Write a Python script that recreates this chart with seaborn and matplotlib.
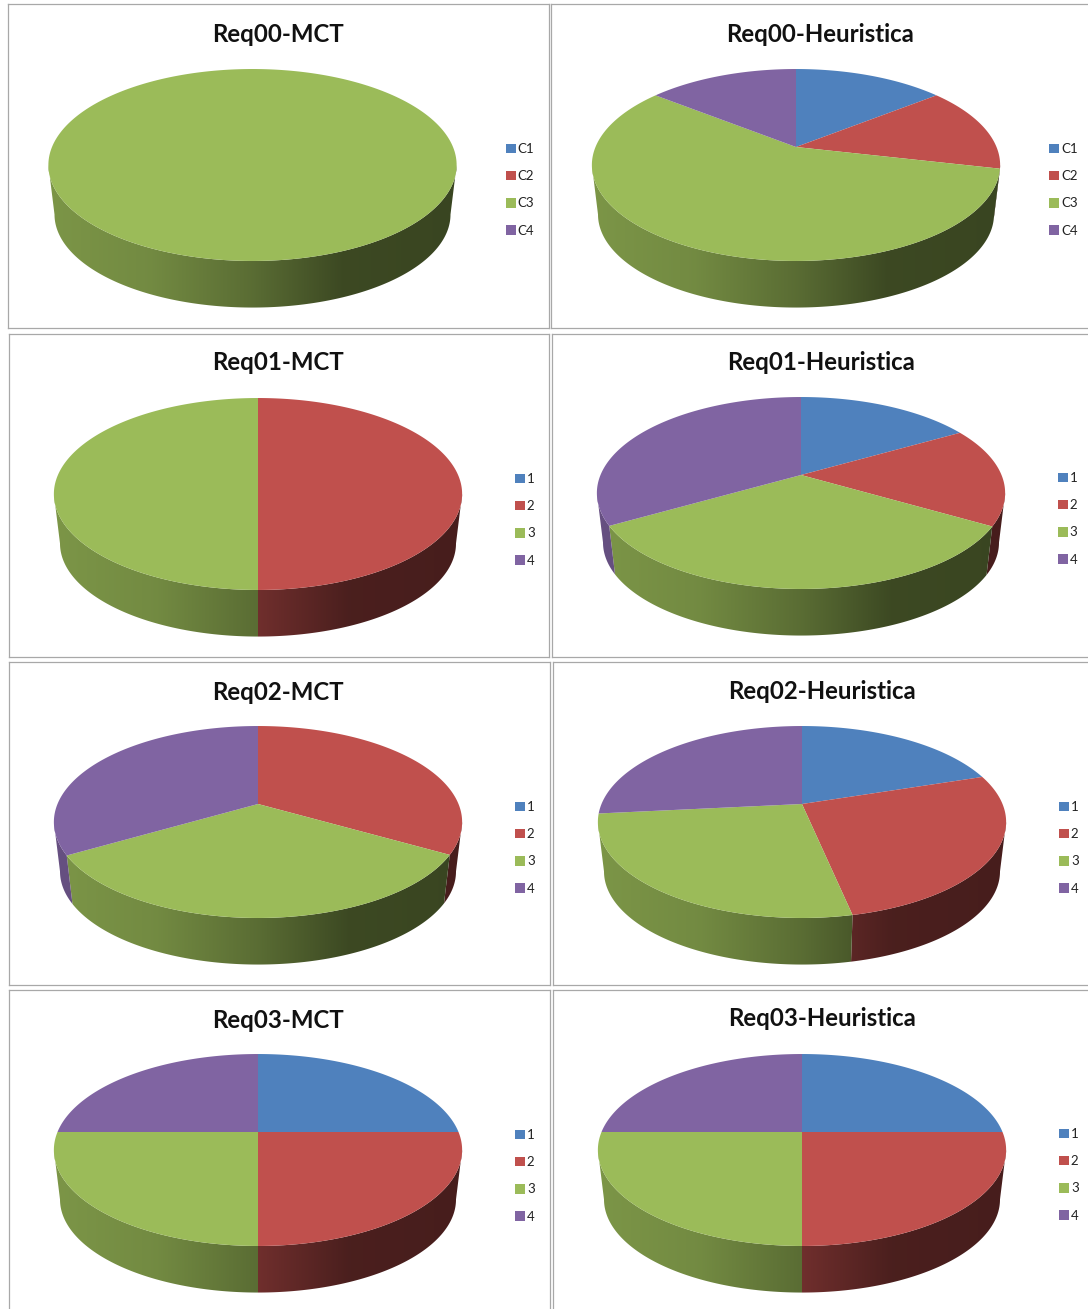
import matplotlib

matplotlib.use("Agg")

import matplotlib.pyplot as plt
import numpy as np
import seaborn as sns
from matplotlib.patches import Patch, Polygon

WIDTH, HEIGHT = 1088, 1309

# share of each class per chart
REQ00_MCT = [0, 0, 100, 0]
REQ00_HEUR = [14.3, 14.3, 57.1, 14.3]
REQ01_MCT = [0, 50, 50, 0]
REQ01_HEUR = [16.7, 16.7, 33.3, 33.3]
REQ02_MCT = [0, 33.3, 33.3, 33.4]
REQ02_HEUR = [20, 26.7, 26.7, 26.6]
REQ03_MCT = [25, 25, 25, 25]
REQ03_HEUR = [25, 25, 25, 25]

LABELS_C = ["C1", "C2", "C3", "C4"]
LABELS_N = ["1", "2", "3", "4"]
COLORS = ["#4F81BD", "#C0504D", "#9BBB59", "#8064A2"]

# rim shading, left to right across the pie
SHADE_POS = [0.0, 0.25, 0.5, 0.72, 1.0]
SHADE_MUL = [0.80, 0.74, 0.58, 0.39, 0.37]

# pie geometry in pixels
RX = 200.5
PERSP_A = 92.6
PERSP_K = 0.1875
DEPTH = 50
BOTTOM_SCALE = 0.97

# title, values, labels, panel box, pie centre, title pos, legend swatch x, first legend y
PANELS = [
    ("Req00-MCT", REQ00_MCT, LABELS_C, (8, 4, 548.5, 328), (252.5, 147), (277.5, 35), 506, 148),
    ("Req00-Heuristica", REQ00_HEUR, LABELS_C, (551, 4, 1095, 328), (796, 147), (820.5, 35), 1049, 148),
    ("Req01-MCT", REQ01_MCT, LABELS_N, (8.5, 333.5, 549, 657), (258, 476), (278, 363), 515, 478),
    ("Req01-Heuristica", REQ01_HEUR, LABELS_N, (552, 333.5, 1095, 657), (801, 475), (821, 363), 1058, 477),
    ("Req02-MCT", REQ02_MCT, LABELS_N, (9, 662, 549.5, 985), (258, 804), (278, 692), 515, 806),
    ("Req02-Heuristica", REQ02_HEUR, LABELS_N, (553, 662, 1095, 985), (802, 804), (822, 691), 1059, 806),
    ("Req03-MCT", REQ03_MCT, LABELS_N, (9, 990, 550, 1320), (258, 1132), (278, 1020), 515, 1134),
    ("Req03-Heuristica", REQ03_HEUR, LABELS_N, (553, 990, 1095, 1320), (802, 1132), (822, 1019), 1059, 1133),
]


def project(angle, cx, cy, scale=1.0):
    # angle runs clockwise from the top of the pie
    xs, ys = np.sin(angle), np.cos(angle)
    denom = 1 + PERSP_K * ys
    return cx + scale * RX * xs / denom, cy - scale * PERSP_A * ys / denom


def draw_pie(ax, values, cx, cy, palette):
    edges = np.concatenate([[0], np.cumsum(values)]) / np.sum(values) * 2 * np.pi
    half_w = RX / np.sqrt(1 - PERSP_K**2)
    # only the front of the rim shows, between the two silhouette angles
    front0 = np.arccos(-PERSP_K)
    front1 = 2 * np.pi - front0
    ramp = np.interp(np.linspace(0, 1, 512), SHADE_POS, SHADE_MUL)

    for val, a0, a1, color in zip(values, edges[:-1], edges[1:], palette):
        if val == 0:
            continue
        r0, r1 = max(a0, front0), min(a1, front1)
        if r1 > r0:
            arc = np.linspace(r0, r1, 200)
            tx, ty = project(arc, cx, cy)
            bx, by = project(arc[::-1], cx, cy + DEPTH, BOTTOM_SCALE)
            outline = Polygon(np.column_stack([np.r_[tx, bx], np.r_[ty, by]]),
                              closed=True, transform=ax.transData)
            grad = ramp[None, :, None] * np.array(color)[None, None, :]
            img = ax.imshow(grad, extent=(cx - half_w, cx + half_w, cy + 130 + DEPTH, cy - 90),
                            aspect="auto", interpolation="bilinear", zorder=1)
            img.set_clip_path(outline)

    for val, a0, a1, color in zip(values, edges[:-1], edges[1:], palette):
        if val == 0:
            continue
        arc = np.linspace(a0, a1, 300)
        px, py = project(arc, cx, cy)
        if a1 - a0 < 2 * np.pi - 1e-6:
            px = np.concatenate([[cx], px])
            py = np.concatenate([[cy], py])
        ax.fill(px, py, color=color, lw=0, zorder=2)


def main():
    sns.set_theme(style="white")
    plt.rcParams["font.family"] = ["Lato", "DejaVu Sans"]
    palette = sns.color_palette(COLORS)

    fig = plt.figure(figsize=(WIDTH / 100, HEIGHT / 100), dpi=100)

    for title, values, labels, box, center, title_pos, leg_x, leg_y in PANELS:
        x0, y0, x1, y1 = box
        ax = fig.add_axes([x0 / WIDTH, 1 - y1 / HEIGHT, (x1 - x0) / WIDTH, (y1 - y0) / HEIGHT])

        draw_pie(ax, values, center[0], center[1], palette)

        # imshow moves the limits, so set them after drawing
        ax.set_xlim(x0, x1)
        ax.set_ylim(y1, y0)
        ax.set_xticks([])
        ax.set_yticks([])
        for spine in ax.spines.values():
            spine.set_color("#a8a8a8")
            spine.set_linewidth(0.9)

        ax.text(title_pos[0], title_pos[1], title, fontsize=17.3, fontweight="bold",
                color="#111111", ha="center", va="center")

        handles = [Patch(facecolor=c, edgecolor="none", label=l) for c, l in zip(palette, labels)]
        ax.legend(
            handles=handles,
            loc="upper left",
            bbox_to_anchor=(leg_x, leg_y - 5),
            bbox_transform=ax.transData,
            frameon=False,
            fontsize=9.5,
            handlelength=0.75,
            handleheight=0.75,
            handletextpad=0.15,
            labelspacing=1.15,
            borderpad=0,
            borderaxespad=0,
            labelcolor="#222222",
        )

    fig.savefig("out.png", dpi=100)
    plt.close(fig)


if __name__ == "__main__":
    main()
